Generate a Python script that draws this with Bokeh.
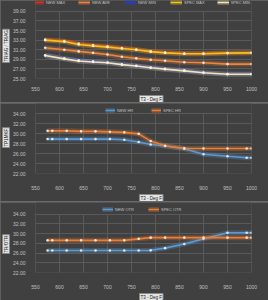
from bokeh.plotting import figure
from bokeh.layouts import column
from bokeh.models import (Range1d, FixedTicker, NumeralTickFormatter, Legend,
                          LegendItem, Title)
from bokeh.embed import file_html
from bokeh.resources import INLINE

# --- data -----------------------------------------------------------------
# Temperature limits chart (T3 stations, deg F)
t3_limits = [570, 610, 640, 670, 700, 730, 760, 790, 820, 860, 900, 950, 1000]
new_max = [33.1, 32.8, 32.3, 32.0, 31.7, 31.35, 31.05, 30.65, 30.4, 30.2, 30.2, 30.3, 30.35]
new_ave = [31.4, 31.0, 30.65, 30.35, 30.0, 29.55, 29.2, 28.9, 28.7, 28.4, 28.3, 28.0, 28.0]
new_min = [29.85, 29.2, 28.8, 28.6, 28.35, 27.95, 27.65, 27.3, 27.0, 26.7, 26.25, 25.95, 25.95]
spec_max = [33.0, 32.7, 32.1, 31.8, 31.55, 31.25, 31.0, 30.6, 30.35, 30.15, 30.15, 30.3, 30.35]
spec_min = [29.8, 29.1, 28.65, 28.45, 28.3, 27.9, 27.6, 27.25, 26.95, 26.6, 26.2, 25.9, 25.9]

# HR and OTR charts (T3 stations, deg F)
t3_ratio = [575, 585, 615, 645, 675, 705, 735, 765, 790, 820, 860, 900, 950, 990, 1000]
new_hr = [28.9, 28.9, 28.9, 28.9, 28.9, 28.9, 28.75, 28.3, 27.8, 27.5, 26.95, 25.85, 25.45, 25.15, 25.15]
spec_hr = [30.55, 30.55, 30.55, 30.45, 30.45, 30.35, 30.25, 29.95, 28.5, 27.55, 27.05, 27.0, 27.0, 27.0, 27.0]
new_otr = [26.5, 26.5, 26.5, 26.5, 26.5, 26.5, 26.5, 26.5, 26.55, 27.0, 27.85, 28.9, 30.15, 30.15, 30.15]
spec_otr = [28.6, 28.6, 28.6, 28.6, 28.6, 28.6, 28.6, 28.9, 29.15, 29.15, 29.15, 29.15, 29.15, 29.15, 29.15]

x_ticks = [550, 600, 650, 700, 750, 800, 850, 900, 950, 1000]
y_ticks_limits = [25, 27, 29, 31, 33, 35, 37, 39]
y_ticks_ratio = [22, 24, 26, 28, 30, 32, 34]

x_title = "T3 - Deg F"

# --- styling ----------------------------------------------------------------
BG = "#404040"
GRID = "#5a5a5a"
TICK_TEXT = "#c0c0c0"
FONT = "Liberation Sans"
W = 268


def boxed_title(text, offset):
    return Title(text=text, align="left", offset=offset, text_font_size="4.5px",
                 text_font=FONT, text_font_style="normal", text_color="#202020",
                 background_fill_color="#e4e4e4", border_line_color="#8a8a8a",
                 padding=1, standoff=0)


def make_chart(height, top, bottom, y_ticks, series, legend_xy, legend_spacing,
               glyph_w, y_title, y_title_offset, x_standoff):
    # plot frame spans the legend strip at the top; the value scale keeps
    # its own px-per-unit so the gridded area sits below the legend
    frame_h = height - bottom
    grid_h = frame_h - top
    units_per_px = (y_ticks[-1] - y_ticks[0]) / grid_h
    y_end = y_ticks[-1] + top * units_per_px

    p = figure(width=W, height=height, output_backend="svg", toolbar_location=None,
               x_range=Range1d(550, 1000), y_range=Range1d(y_ticks[0], y_end),
               min_border_left=27, min_border_right=17,
               min_border_top=0, min_border_bottom=bottom)
    p.background_fill_color = BG
    p.border_fill_color = BG
    p.outline_line_color = None

    p.xaxis.ticker = FixedTicker(ticks=x_ticks)
    p.yaxis.ticker = FixedTicker(ticks=y_ticks)
    p.yaxis.formatter = NumeralTickFormatter(format="0.00")
    p.xaxis.formatter = NumeralTickFormatter(format="0")
    for ax in (p.xaxis, p.yaxis):
        ax.axis_line_color = None
        ax.major_tick_line_color = None
        ax.minor_tick_line_color = None
        ax.major_label_text_font_size = "5px"
        ax.major_label_text_color = TICK_TEXT
        ax.major_label_text_font = FONT
    p.xaxis.major_label_standoff = x_standoff
    p.yaxis.major_label_standoff = 4

    p.add_layout(boxed_title(x_title, 104), "below")
    p.add_layout(boxed_title(y_title, y_title_offset), "left")

    # vertical grid limited to the value span, horizontal grid at value ticks
    p.xgrid.visible = False
    p.ygrid.grid_line_color = GRID
    p.segment(x0=x_ticks, y0=[y_ticks[0]] * len(x_ticks),
              x1=x_ticks, y1=[y_ticks[-1]] * len(x_ticks),
              line_color=GRID, line_width=1)

    items = []
    for name, xs, ys, color in series:
        glow = p.line(xs, ys, line_color=color, line_width=5, line_alpha=0.25)
        ln = p.line(xs, ys, line_color=color, line_width=1.6)
        p.scatter(xs, ys, size=2.6, fill_color="#f4f4f4", fill_alpha=0.85,
                  line_color=None)
        items.append(LegendItem(label=name, renderers=[glow, ln]))

    legend = Legend(items=items, location=legend_xy, orientation="horizontal",
                    glyph_width=glyph_w, glyph_height=6, label_height=6,
                    label_text_font_size="4px", label_text_color=TICK_TEXT,
                    label_text_font=FONT, label_standoff=2,
                    spacing=legend_spacing, padding=0, margin=0,
                    background_fill_alpha=0, border_line_color=None)
    p.add_layout(legend)
    return p


p1 = make_chart(
    102, 12, 16, y_ticks_limits,
    [("NEW MAX", t3_limits, new_max, "#d8321e"),
     ("NEW AVE", t3_limits, new_ave, "#f0843a"),
     ("NEW MIN", t3_limits, new_min, "#2b3cc8"),
     ("SPEC MAX", t3_limits, spec_max, "#f2c21e"),
     ("SPEC MIN", t3_limits, spec_min, "#f4e4b0")],
    (-3, 73), 12, 12, "TRIAG / TRIAG", 16, 2)

p2 = make_chart(
    98, 11, 22, y_ticks_ratio,
    [("NEW HR", t3_ratio, new_hr, "#5b9bd5"),
     ("SPEC HR", t3_ratio, spec_hr, "#ed7d31")],
    (70, 60), 14, 10, "TP1MKF", 26, 6)

p3 = make_chart(
    98, 13, 19, y_ticks_ratio,
    [("NEW OTR", t3_ratio, new_otr, "#5b9bd5"),
     ("SPEC OTR", t3_ratio, spec_otr, "#ed7d31")],
    (67, 60), 13, 11, "TR/OTR", 19, 6)

layout = column(p1, p2, p3, spacing=1,
                styles={"background-color": "#6a6a6a"})

open("out.html", "w").write(file_html(layout, INLINE))
